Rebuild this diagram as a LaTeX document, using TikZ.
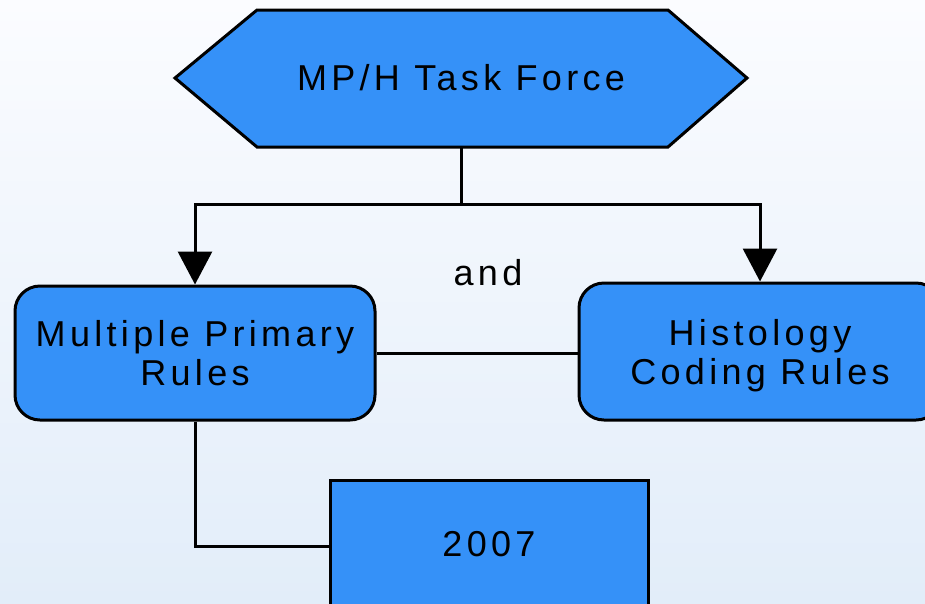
\documentclass[tikz,border=0pt]{standalone}
\usepackage{fontspec}
\setmainfont{Liberation Sans}[LetterSpace=12]
\usetikzlibrary{arrows.meta}
\definecolor{boxblue}{RGB}{53,145,248}
\definecolor{skytop}{RGB}{251,252,255}
\definecolor{skybottom}{RGB}{226,237,249}
\begin{document}
\begin{tikzpicture}[x=1pt,y=-1pt,
  txt/.style={font=\fontsize{36pt}{39pt}\selectfont, align=center, inner sep=0pt},
  flowbox/.style={draw, line width=3pt, fill=boxblue, rounded corners=25pt, txt},
  link/.style={draw, line width=3pt},
  down/.style={link, -{Triangle[width=34pt,length=33pt]}}]
% canvas and soft background
\useasboundingbox (0,0) rectangle (925,603);
\clip (0,0) rectangle (925,603);
\shade[top color=skytop, bottom color=skybottom] (0,0) rectangle (925,603);

% task force hexagon
\draw[link, fill=boxblue, line join=miter] (175,78) -- (257,10) -- (668,10) -- (747,78) -- (668,147) -- (257,147) -- cycle;
\node[txt] (task) at (461,78) {MP/H Task Force};
\coordinate (taskbot) at (461,147);
\coordinate (split) at (461,204);

% rule sets and year
\node[flowbox, minimum width=360pt, minimum height=134pt] (mpr) at (195,353) {Multiple Primary\\Rules};
\node[flowbox, minimum width=362pt, minimum height=137pt, text depth=0pt] (hcr) at (760,351.5) {Histology\\Coding Rules};
\node[flowbox, rounded corners=0pt, minimum width=318pt, minimum height=132pt] (yr) at (489,546) {\raisebox{4pt}{2007}};
\node[txt] (andlbl) at (488,273) {and};

% connectors
\draw[link] (taskbot) -- (split);
\draw[down] (split) -| (mpr.north);
\draw[down] (split) -| (hcr.north);
\draw[link] (mpr.east) -- (mpr.east -| hcr.west);
\draw[link] (mpr.south) |- (yr.west);
\end{tikzpicture}
\end{document}
